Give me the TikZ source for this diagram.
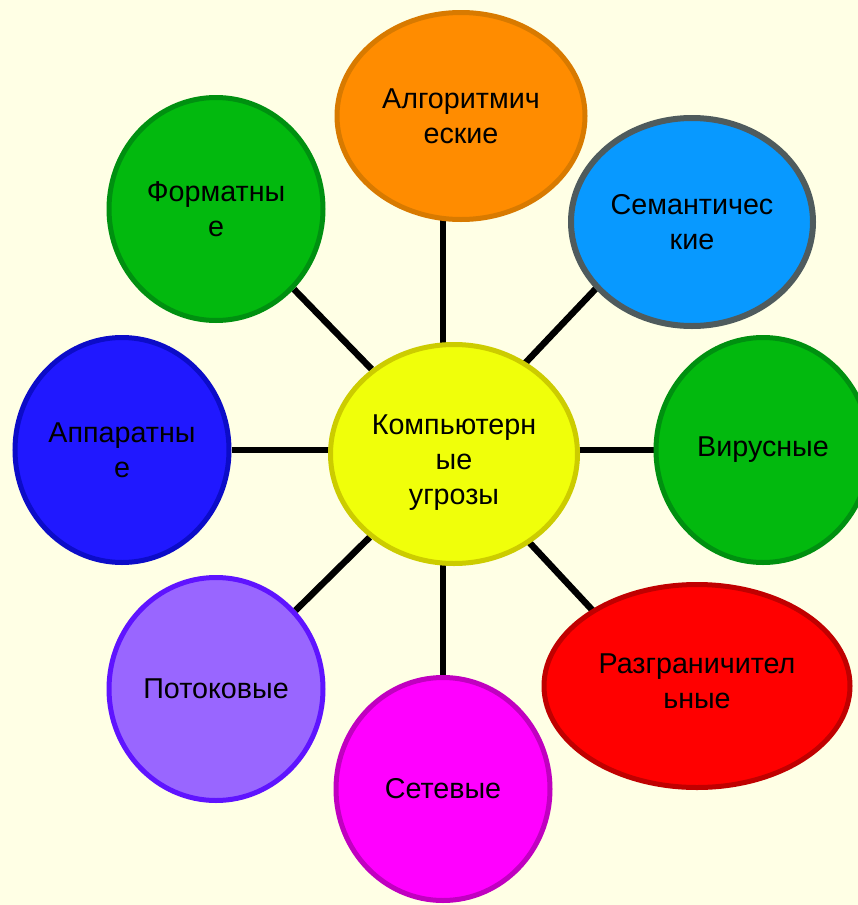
\documentclass[tikz,border=0pt]{standalone}
\usepackage{fontspec}
\setmainfont{Liberation Sans}
\usepackage{xcolor}
\usetikzlibrary{shapes.geometric, backgrounds}

\definecolor{bgcol}{HTML}{FFFFE5}
\definecolor{orangefill}{HTML}{FF8C00}
\definecolor{orangeline}{HTML}{D87A00}
\definecolor{skyfill}{HTML}{0899FF}
\definecolor{skyline}{HTML}{4F5B5D}
\definecolor{greenfill}{HTML}{02B90E}
\definecolor{greenline}{HTML}{009010}
\definecolor{redfill}{HTML}{FF0000}
\definecolor{redline}{HTML}{C00000}
\definecolor{pinkfill}{HTML}{FF00FF}
\definecolor{pinkline}{HTML}{C000C0}
\definecolor{lilacfill}{HTML}{9966FF}
\definecolor{lilacline}{HTML}{5F14FF}
\definecolor{bluefill}{HTML}{2018FF}
\definecolor{blueline}{HTML}{0C0CC8}
\definecolor{yellowfill}{HTML}{F0FF0A}
\definecolor{yellowline}{HTML}{CCCC00}

\tikzset{
    threat/.style={ellipse, line width=5pt, inner sep=0pt, align=center,
        font=\fontsize{28.7}{35}\selectfont},
    link/.style={line width=6.5pt, black}
}

\begin{document}
\begin{tikzpicture}[x=1pt, y=-1pt]
            \useasboundingbox (0,0) rectangle (858,905);

            \node[threat, fill=yellowfill, draw=yellowline, minimum width=247, minimum height=219] (c) at (454,454) {\rule{0pt}{37pt}Компьютерн\\ые\\угрозы};

            \node[threat, fill=orangefill, draw=orangeline, minimum width=248, minimum height=207] (alg) at (461,116) {Алгоритмич\\еские};
            \node[threat, fill=skyfill, draw=skyline, line width=6pt, minimum width=242, minimum height=208] (sem) at (692,222) {Семантичес\\кие};
            \node[threat, fill=greenfill, draw=greenline, minimum width=214, minimum height=225] (vir) at (763,450) {Вирусные};
            \node[threat, fill=redfill, draw=redline, minimum width=306, minimum height=203] (razg) at (697,686) {Разграничител\\ьные\rule[-10pt]{0pt}{10pt}};
            \node[threat, fill=pinkfill, draw=pinkline, minimum width=214, minimum height=223] (set) at (443,789) {Сетевые};
            \node[threat, fill=lilacfill, draw=lilacline, minimum width=214, minimum height=223] (pot) at (216,689) {Потоковые};
            \node[threat, fill=bluefill, draw=blueline, minimum width=214, minimum height=225] (app) at (122,450) {Аппаратны\\е};
            \node[threat, fill=greenfill, draw=greenline, minimum width=214, minimum height=223] (form) at (216,209) {Форматны\\е};

            \begin{scope}[on background layer]
                \fill[bgcol] (0,0) rectangle (858,905);
                \draw[link] (set |- alg) -- (set |- c);
                \draw[link] (set |- c) -- (set);
                \draw[link] (app) -- (app -| c);
                \draw[link] (app -| c) -- (vir);
                \draw[link] (c) -- (form);
                \draw[link] ([xshift=-15pt]c.center) -- ([xshift=-33pt]sem.center);
                \draw[link] ([xshift=-7pt]c.center) -- ([xshift=-34pt]razg.center);
                \draw[link] (c) -- (pot);
            \end{scope}
        \end{tikzpicture}
\end{document}
